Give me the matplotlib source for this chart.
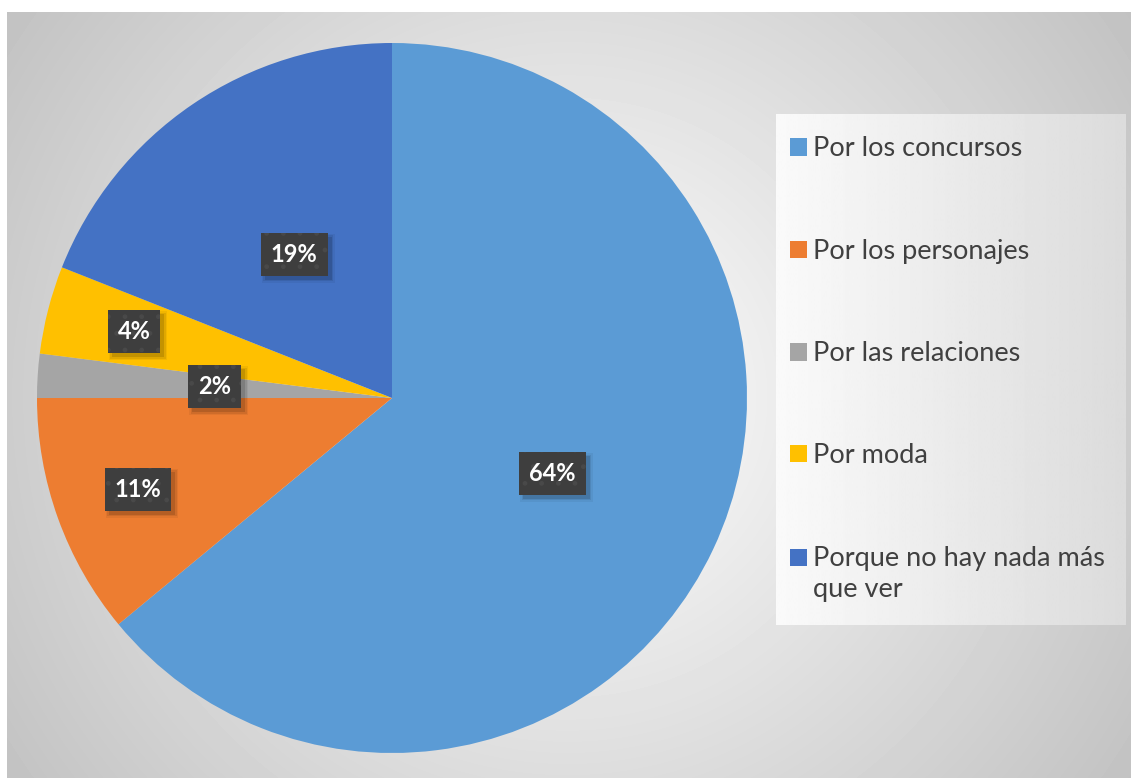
import textwrap

import matplotlib.pyplot as plt
import matplotlib.transforms as mtransforms
import numpy as np
from matplotlib.patches import Rectangle

plt.rcParams['font.family'] = ['Lato', 'DejaVu Sans']
plt.rcParams['hatch.linewidth'] = 1.0

categories = ["Por los concursos", "Por los personajes", "Por las relaciones",
              "Por moda", "Porque no hay nada más que ver"]
shares = [64, 11, 2, 4, 19]
colors = ["#5B9BD5", "#ED7D31", "#A5A5A5", "#FFC000", "#4472C4"]
# how far out (fraction of the radius) each percentage box sits
label_r = [0.50, 0.76, 0.50, 0.75, 0.49]

W, H = 1131, 778
fig = plt.figure(figsize=(W / 100, H / 100), dpi=100)
fig.patch.set_facecolor('white')

# radial grey background of the chart area
bg = fig.add_axes([7 / W, 0, 1 - 7 / W, 1 - 12 / H])
bg.set_axis_off()
yy, xx = np.mgrid[0:766, 0:1124]
cx, cy = 560, 385
dist = np.hypot(xx - cx, yy - cy) / np.hypot(560, 390)
shade = 1 - 0.24 * np.clip(dist, 0, 1.1)
bg.imshow(shade, cmap='gray', vmin=0, vmax=1, aspect='auto',
          extent=(0, 1, 0, 1), origin='upper', interpolation='bilinear')
bg.set_xlim(0, 1)
bg.set_ylim(0, 1)

# pie
r_px = 355
pcx, pcy = 392, H - 398
ax = fig.add_axes([(pcx - r_px) / W, (pcy - r_px) / H, 2 * r_px / W, 2 * r_px / H])
ax.set_axis_off()
wedges, _ = ax.pie(shares, colors=colors, startangle=90, counterclock=False,
                   radius=1, wedgeprops=dict(linewidth=0))
ax.set_xlim(-1, 1)
ax.set_ylim(-1, 1)

labels = []
for w, val, rr in zip(wedges, shares, label_r):
    mid = np.deg2rad((w.theta1 + w.theta2) / 2)
    t = ax.text(rr * np.cos(mid), rr * np.sin(mid), f"{val}%",
                ha='center', va='center', color='white', fontsize=17,
                fontweight='bold', zorder=5,
                bbox=dict(boxstyle='square,pad=0.42', facecolor='#3e3e3e',
                          edgecolor='#494949', linewidth=0, hatch='.'))
    labels.append(t)

# soft drop shadow under each label box (stacked translucent rectangles)
fig.canvas.draw()
ident = mtransforms.IdentityTransform()
for t in labels:
    bb = t.get_bbox_patch().get_window_extent()
    for grow, a in [(3, 0.05), (1.5, 0.08), (0, 0.12)]:
        ax.add_patch(Rectangle((bb.x0 + 4 - grow, bb.y0 - 4 - grow),
                               bb.width + 2 * grow, bb.height + 2 * grow,
                               transform=ident, facecolor='black',
                               edgecolor='none', alpha=a, zorder=4,
                               clip_on=False))

# legend panel drawn by hand
lx0, lx1, ly0, ly1 = 776, 1126, 114, 625
grad = np.linspace(0.98, 0.86, 200)[None, :]
leg = fig.add_axes([lx0 / W, 1 - ly1 / H, (lx1 - lx0) / W, (ly1 - ly0) / H])
leg.set_axis_off()
leg.imshow(grad, cmap='gray', vmin=0, vmax=1, aspect='auto',
           extent=(0, 1, 0, 1), interpolation='bilinear')
leg.set_xlim(0, 1)
leg.set_ylim(0, 1)

row_y = [147, 250, 352, 454, 557]
for lab, col, y in zip(categories, colors, row_y):
    fig.patches.append(Rectangle((790 / W, 1 - (y + 8.5) / H), 17 / W, 17 / H,
                                 transform=fig.transFigure, facecolor=col,
                                 edgecolor='none', zorder=5))
    fig.text(813 / W, 1 - (y - 11) / H, textwrap.fill(lab, 22), ha='left',
             va='top', fontsize=19.5, color='#404040', linespacing=1.3)

fig.savefig('out.png', dpi=100)
